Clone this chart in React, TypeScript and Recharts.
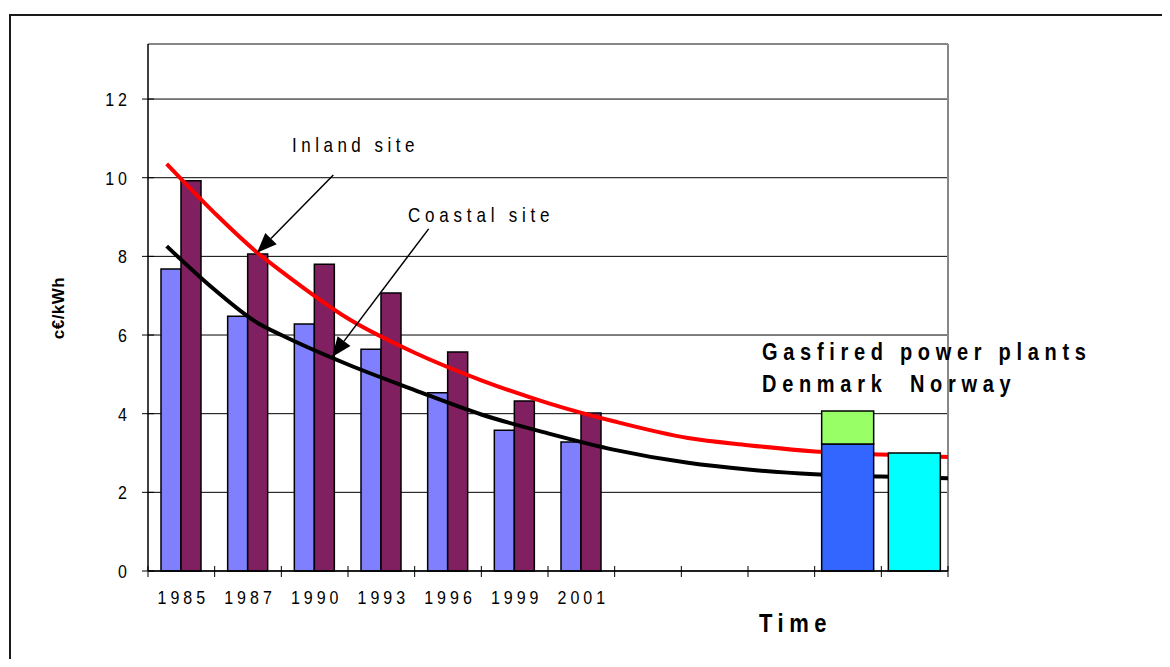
import * as React from 'react'
import {
  ComposedChart,
  Bar,
  Line,
  Cell,
  XAxis,
  YAxis,
  CartesianGrid,
  ReferenceLine,
} from 'recharts'

// categories (years), bar values in c€/kWh
const categories = ['1985', '1987', '1990', '1993', '1996', '1999', '2001', '', '', '', '', '']
const coastalCost = [7.68, 6.48, 6.28, 5.64, 4.53, 3.58, 3.28, null, null, null, null, null]
const inlandCost = [9.92, 8.06, 7.8, 7.07, 5.57, 4.32, 4.02, null, null, null, null, null]
const gasBase = [null, null, null, null, null, null, null, null, null, null, 3.23, 3.0]
const gasExtra = [null, null, null, null, null, null, null, null, null, null, 0.84, null]
const gasColors = ['', '', '', '', '', '', '', '', '', '', '#3366FF', '#00FFFF']

// trend curves, x measured in category widths from the y axis
const curveX = [0.28, 1, 1.65, 2, 3, 4, 5, 6, 7, 8.1, 9, 10, 11, 12]
const inlandCurve = [10.35, 9.1, 8.08, 7.62, 6.42, 5.55, 4.85, 4.27, 3.8, 3.38, 3.2, 3.04, 2.96, 2.9]
const coastalCurve = [8.26, 7.15, 6.3, 6.0, 5.25, 4.6, 3.98, 3.5, 3.08, 2.75, 2.58, 2.46, 2.4, 2.36]

const yTicks = [0, 2, 4, 6, 8, 10, 12]

const data = categories.map((c, i) => ({
  key: 'c' + i,
  label: c,
  coastal: coastalCost[i],
  inland: inlandCost[i],
  gas: gasBase[i],
  gasTop: gasExtra[i],
}))
const inlandData = curveX.map((u, i) => ({ u, v: inlandCurve[i] }))
const coastalData = curveX.map((u, i) => ({ u, v: coastalCurve[i] }))

const font = '"Liberation Sans", Arial, sans-serif'

// text slightly stretched vertically, like the original metafile rendering
const Tall = (props: any) => {
  const { x, y, children, ...rest } = props
  return (
    <text x={0} y={0} transform={`translate(${x},${y}) scale(1,1.2)`} fill="#000" fontFamily={font} {...rest}>
      {children}
    </text>
  )
}

const XTick = (props: any) => {
  const { x, y, payload, index } = props
  const half = payload.offset || 33.33
  const label = categories[index] || ''
  return (
    <g>
      <line x1={x - half} x2={x - half} y1={y - 5} y2={y + 6} stroke="#000" />
      {index === categories.length - 1 && (
        <line x1={x + half} x2={x + half} y1={y - 5} y2={y + 6} stroke="#000" />
      )}
      <Tall x={x + 2} y={y + 33} textAnchor="middle" fontSize={16} letterSpacing={4}>
        {label}
      </Tall>
    </g>
  )
}

const YTick = (props: any) => {
  const { x, y, payload } = props
  return (
    <g>
      <line x1={x - 6} x2={x + 6} y1={y} y2={y} stroke="#000" />
      <Tall x={x - 17} y={y + 7} textAnchor="end" fontSize={16} letterSpacing={4}>
        {payload.value}
      </Tall>
    </g>
  )
}

const Arrow = (props: any) => {
  const { x1, y1, x2, y2 } = props
  const dx = x2 - x1
  const dy = y2 - y1
  const len = Math.sqrt(dx * dx + dy * dy)
  const ux = dx / len
  const uy = dy / len
  const bx = x2 - ux * 20
  const by = y2 - uy * 20
  const px = -uy * 8
  const py = ux * 8
  return (
    <g>
      <line x1={x1} y1={y1} x2={bx} y2={by} stroke="#000" strokeWidth={1.5} />
      <polygon points={`${x2},${y2} ${bx + px},${by + py} ${bx - px},${by - py}`} fill="#000" />
    </g>
  )
}

export default function App() {
  return (
    <div style={{ position: 'relative', width: 1154, height: 651, overflow: 'hidden' }}>
      <div
        style={{
          position: 'absolute',
          left: 1,
          top: 6,
          width: 1300,
          height: 800,
          borderLeft: '2px solid #1a1a1a',
          borderTop: '2px solid #1a1a1a',
        }}
      />
      <div style={{ position: 'absolute', left: 0, top: 0 }}>
        <ComposedChart
          width={1154}
          height={651}
          data={data}
          barGap={0}
          margin={{ top: 36, right: 214, bottom: 58, left: 80 }}
        >
          <CartesianGrid vertical={false} stroke="#000" strokeWidth={1} />
          <XAxis
            dataKey="key"
            height={30}
            interval={0}
            tickSize={0}
            tickMargin={0}
            tickLine={false}
            tick={<XTick />}
            axisLine={{ stroke: '#000', strokeWidth: 1.5 }}
          />
          <XAxis xAxisId="gas" dataKey="key" hide />
          <XAxis xAxisId="num" type="number" dataKey="u" domain={[0, 12]} hide allowDataOverflow />
          <YAxis
            width={60}
            domain={[0, 13.4]}
            ticks={yTicks}
            interval={0}
            tickSize={0}
            tickMargin={0}
            tickLine={false}
            tick={<YTick />}
            axisLine={{ stroke: '#000', strokeWidth: 1.5 }}
          />
          <ReferenceLine y={13.4} stroke="#888" strokeWidth={2} ifOverflow="visible" />
          <ReferenceLine x={12} xAxisId="num" stroke="#888" strokeWidth={2} ifOverflow="visible" />
          <Bar dataKey="coastal" fill="#8080FF" stroke="#000" strokeWidth={1.5} barSize={20} isAnimationActive={false} />
          <Bar dataKey="inland" fill="#802060" stroke="#000" strokeWidth={1.5} barSize={20} isAnimationActive={false} />
          <Line
            xAxisId="num"
            data={inlandData}
            dataKey="v"
            type="monotone"
            stroke="#FF0000"
            strokeWidth={4}
            dot={false}
            isAnimationActive={false}
          />
          <Line
            xAxisId="num"
            data={coastalData}
            dataKey="v"
            type="monotone"
            stroke="#000"
            strokeWidth={4}
            dot={false}
            isAnimationActive={false}
          />
          <Bar
            xAxisId="gas"
            dataKey="gas"
            stackId="g"
            barSize={52}
            stroke="#000"
            strokeWidth={1.5}
            zIndex={450}
            isAnimationActive={false}
          >
            {data.map((d, i) => (
              <Cell key={d.key} fill={gasColors[i] || '#3366FF'} />
            ))}
          </Bar>
          <Bar
            xAxisId="gas"
            dataKey="gasTop"
            stackId="g"
            barSize={52}
            fill="#99FF66"
            stroke="#000"
            strokeWidth={1.5}
            zIndex={450}
            isAnimationActive={false}
          />
          <ReferenceLine
            xAxisId="num"
            segment={[{ x: 2.78, y: 10.07 }, { x: 1.635, y: 8.09 }]}
            shape={<Arrow />}
            ifOverflow="visible"
            zIndex={600}
          />
          <ReferenceLine
            xAxisId="num"
            segment={[{ x: 4.21, y: 8.7 }, { x: 2.76, y: 5.44 }]}
            shape={<Arrow />}
            ifOverflow="visible"
            zIndex={600}
          />
        </ComposedChart>
      </div>
      <svg
        width={1154}
        height={651}
        style={{ position: 'absolute', left: 0, top: 0, pointerEvents: 'none' }}
      >
        <Tall x={284} y={144} fontSize={17} letterSpacing={4.5}>
          Inland site
        </Tall>
        <Tall x={400} y={214} fontSize={17} letterSpacing={4.8}>
          Coastal site
        </Tall>
        <Tall x={754} y={352} fontSize={20} fontWeight="bold" letterSpacing={5.7}>
          Gasfired power plants
        </Tall>
        <Tall x={754} y={384} fontSize={20} fontWeight="bold" letterSpacing={5.7} style={{ whiteSpace: 'pre' }}>
          {'Denmark  Norway'}
        </Tall>
        <Tall x={751} y={624} fontSize={22} fontWeight="bold" letterSpacing={5.5}>
          Time
        </Tall>
        <text
          x={0}
          y={0}
          transform="translate(56,300) rotate(-90)"
          textAnchor="middle"
          fontSize={17}
          fontWeight="bold"
          letterSpacing={0.5}
          fill="#000"
          fontFamily={font}
        >
          c€/kWh
        </text>
      </svg>
    </div>
  )
}
